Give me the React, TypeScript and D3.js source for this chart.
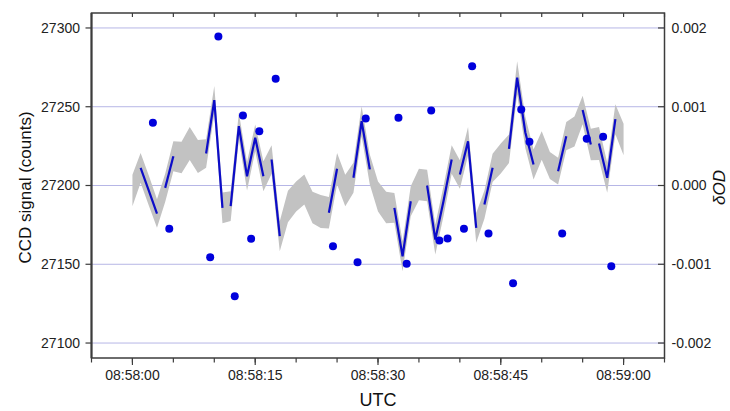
import * as d3 from 'd3';

// seconds after 08:58:00 UTC, one sample per second
const sampleSec = d3.range(0, 61);

// smoothed CCD signal (counts)
const signal = [
  27196.8, 27211.2, 27196.8, 27182.2, 27198.5, 27218.6, 27217.8, 27226.7, 27218.4, 27220.3,
  27254.2, 27185.8, 27186.9, 27237.7, 27205.9, 27230.3, 27205.9, 27216.5, 27167.8, 27186.7,
  27193.0, 27197.5, 27186.0, 27183.5, 27182.7, 27210.6, 27196.8, 27204.9, 27240.8, 27210.2,
  27193.0, 27186.0, 27185.8, 27155.1, 27190.0, 27200.6, 27200.0, 27165.7, 27190.0, 27216.5,
  27207.0, 27228.1, 27173.1, 27187.9, 27211.2, 27217.1, 27223.3, 27268.4, 27233.7, 27213.3,
  27225.4, 27212.7, 27209.1, 27231.3, 27234.3, 27247.9, 27226.0, 27226.7, 27204.9, 27242.1,
  27229.2,
];

// half width of the grey band (counts)
const bandHalf = [
  10.0, 9.5, 9.5, 9.0, 9.0, 9.5, 10.0, 10.5, 10.5, 9.0,
  9.0, 9.8, 9.5, 8.5, 9.0, 8.5, 9.5, 9.0, 9.5, 10.0,
  9.5, 9.5, 10.0, 10.5, 10.0, 10.0, 10.0, 9.5, 9.5, 9.5,
  9.5, 10.0, 9.5, 9.5, 9.5, 10.0, 10.0, 9.5, 9.5, 9.0,
  9.0, 9.0, 9.5, 9.0, 9.0, 9.5, 9.0, 10.5, 10.0, 9.5,
  9.0, 8.5, 8.5, 9.0, 9.5, 9.0, 10.0, 10.5, 9.5, 9.5,
  10.0,
];

// index ranges where the blue trace is drawn
const blueRuns = [
  [1, 3], [4, 5], [9, 11], [12, 16], [17, 18], [24, 25], [27, 29], [32, 34],
  [36, 39], [40, 42], [43, 44], [46, 49], [52, 53], [55, 56], [57, 59],
];

// single measurements (blue dots)
const dotSec = [
  2.5, 4.5, 9.5, 10.5, 12.5, 13.5, 14.5, 15.5, 17.5, 24.5, 27.5, 28.5, 32.5, 33.5,
  36.5, 37.5, 38.5, 40.5, 41.5, 43.5, 46.5, 47.5, 48.5, 52.5, 55.5, 57.5, 58.5,
];
const dotSignal = [
  27239.8, 27172.5, 27154.5, 27294.6, 27129.7, 27244.4, 27166.2, 27234.5, 27267.7,
  27161.5, 27151.3, 27242.5, 27243.0, 27150.3, 27247.6, 27165.1, 27166.3, 27172.5,
  27275.7, 27169.5, 27138.0, 27248.3, 27227.7, 27169.5, 27229.7, 27230.9, 27148.8,
];

const leftTicks = [27100, 27150, 27200, 27250, 27300];
const rightTicks = [-0.002, -0.001, 0, 0.001, 0.002];

const base = Date.UTC(2000, 0, 1, 8, 58, 0);
const toDate = (s: number) => new Date(base + s * 1000);

export default function App() {
  const width = 730;
  const height = 411;
  const left = 91.5;
  const right = 664.5;
  const top = 13;
  const bottom = 358;

  const x = d3.scaleUtc().domain([toDate(-5), toDate(65)]).range([left, right]);
  const y = d3.scaleLinear().domain([27090.5, 27309.5]).range([bottom, top]);
  const yr = d3.scaleLinear().domain([-0.00219, 0.00219]).range([bottom, top]);

  const minorTicks = d3.range(-5, 66, 5).map(toDate);
  const majorTicks = d3.range(0, 61, 15).map(toDate);
  const fmt = d3.utcFormat('%H:%M:%S');

  const band = d3
    .area<number>()
    .x((i) => x(toDate(sampleSec[i])))
    .y0((i) => y(signal[i] - bandHalf[i]))
    .y1((i) => y(signal[i] + bandHalf[i]));

  const trace = d3
    .line<number>()
    .x((i) => x(toDate(sampleSec[i])))
    .y((i) => y(signal[i]));

  const font = 'Liberation Sans, Arial, sans-serif';

  return (
    <svg
      width={width}
      height={height}
      style={{ position: 'absolute', left: 0, top: 0, background: '#fff' }}
      fontFamily={font}
    >
      {leftTicks.map((t) => (
        <line key={'g' + t} x1={left} x2={right} y1={y(t)} y2={y(t)} stroke="#b6b6e6" strokeWidth={1} />
      ))}

      <path d={band(sampleSec.map((_, i) => i)) || ''} fill="#c2c2c2" />

      {blueRuns.map(([a, b], k) => (
        <path
          key={'r' + k}
          d={trace(d3.range(a, b + 1)) || ''}
          fill="none"
          stroke="#0c0cc8"
          strokeWidth={2.2}
        />
      ))}

      {dotSec.map((s, i) => (
        <circle key={'d' + i} cx={x(toDate(s))} cy={y(dotSignal[i])} r={4} fill="#0000dc" />
      ))}

      {/* frame */}
      <rect x={left} y={top} width={right - left} height={bottom - top} fill="none" stroke="#3c3c3c" strokeWidth={1.5} />
      <line x1={left} x2={left} y1={top} y2={bottom} stroke="#3c3c3c" strokeWidth={2} />

      {/* bottom and top ticks */}
      {minorTicks.map((d, i) => (
        <g key={'m' + i}>
          <line x1={x(d)} x2={x(d)} y1={bottom} y2={bottom + 4.5} stroke="#3c3c3c" strokeWidth={1.2} />
          <line x1={x(d)} x2={x(d)} y1={top} y2={top + 4} stroke="#3c3c3c" strokeWidth={1.2} />
        </g>
      ))}
      {majorTicks.map((d, i) => (
        <g key={'M' + i}>
          <line x1={x(d)} x2={x(d)} y1={bottom} y2={bottom + 7} stroke="#3c3c3c" strokeWidth={1.2} />
          <text x={x(d)} y={380} textAnchor="middle" fontSize={14} fill="#222">
            {fmt(d)}
          </text>
        </g>
      ))}

      {/* left axis */}
      {leftTicks.map((t) => (
        <g key={'l' + t}>
          <line x1={left - 6} x2={left} y1={y(t)} y2={y(t)} stroke="#3c3c3c" strokeWidth={1.2} />
          <text x={80} y={y(t)} dy="0.35em" textAnchor="end" fontSize={14} fill="#222">
            {t}
          </text>
        </g>
      ))}

      {/* right axis */}
      {rightTicks.map((t) => (
        <g key={'rt' + t}>
          <line x1={right - 6.5} x2={right} y1={yr(t)} y2={yr(t)} stroke="#3c3c3c" strokeWidth={1.2} />
          <text x={671.5} y={yr(t)} dy="0.35em" fontSize={14} fill="#222">
            {d3.format('.3f')(t).replace('−', '-')}
          </text>
        </g>
      ))}

      <text
        transform={`translate(31,${(top + bottom) / 2 + 2}) rotate(-90)`}
        textAnchor="middle"
        fontSize={17}
        fill="#111"
      >
        CCD signal (counts)
      </text>
      <text
        transform={`translate(725,${(top + bottom) / 2 + 2}) rotate(-90)`}
        textAnchor="middle"
        fontSize={17}
        fontStyle="italic"
        fill="#111"
      >
        δOD
      </text>
      <text x={(left + right) / 2} y={406} textAnchor="middle" fontSize={18} fill="#111">
        UTC
      </text>
    </svg>
  );
}
